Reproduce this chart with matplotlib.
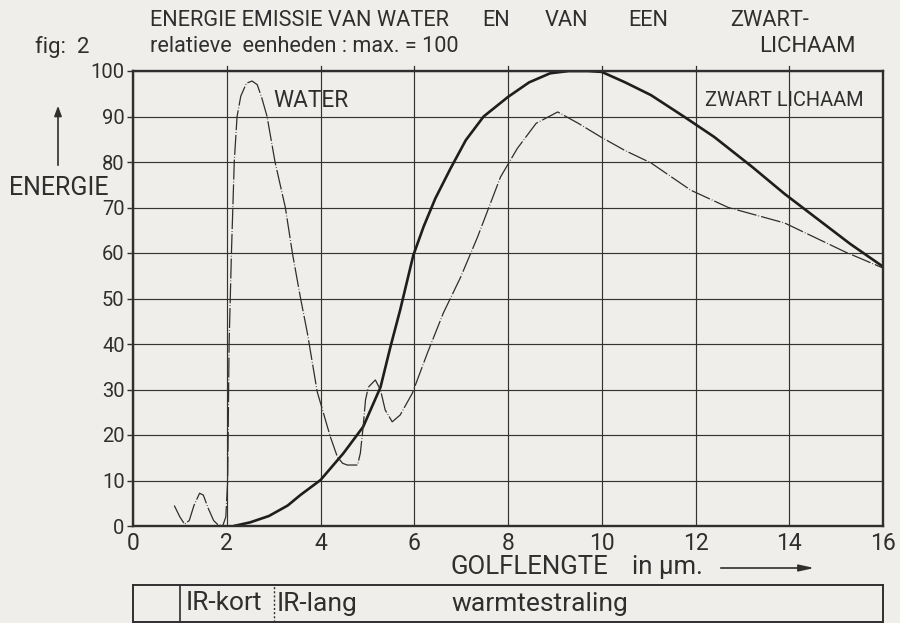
import matplotlib
matplotlib.use("Agg")
import matplotlib.pyplot as plt

# ---------------- data ----------------
x_ticks = [0, 2, 4, 6, 8, 10, 12, 14, 16]
y_ticks = [0, 10, 20, 30, 40, 50, 60, 70, 80, 90, 100]

# black body ("zwart lichaam") emission, relative units
bb_x = [2.15, 2.5, 2.9, 3.3, 3.57, 4.0, 4.49, 4.91, 5.28, 5.49, 5.7, 5.98, 6.2, 6.45,
        6.77, 7.1, 7.48, 8.0, 8.45, 8.9, 9.3, 9.7, 10.0, 10.5, 11.05, 11.75, 12.4,
        13.2, 13.9, 14.6, 15.3, 16.0]
bb_y = [0.0, 0.8, 2.2, 4.5, 6.8, 10.1, 16.0, 21.8, 30.5, 39.3, 47.5, 59.5, 65.8, 72.0,
        78.5, 84.8, 90.0, 94.3, 97.5, 99.5, 100.0, 100.0, 99.8, 97.5, 94.7, 90.0, 85.5,
        79.0, 73.0, 67.5, 62.0, 57.0]

# water emission, relative units
w_x = [0.88, 1.0, 1.1, 1.2, 1.3, 1.42, 1.5, 1.6, 1.72, 1.82, 1.92, 1.98, 2.02, 2.05,
       2.1, 2.16, 2.22, 2.3, 2.42, 2.54, 2.65, 2.75, 2.86, 3.03, 3.25, 3.4, 3.57,
       3.72, 3.93, 4.21, 4.36, 4.47, 4.57, 4.79, 4.85, 4.91, 4.96, 5.02, 5.17, 5.28,
       5.38, 5.53, 5.7, 5.96, 6.28, 6.62, 6.99, 7.35, 7.84, 8.2, 8.6, 9.06, 9.5,
       9.98, 10.5, 11.05, 11.9, 12.7, 13.9, 15.2, 16.0]
w_y = [4.5, 2.0, 0.4, 1.2, 4.5, 7.2, 6.8, 4.0, 1.2, 0.2, 0.2, 2.0, 10.0, 40.0,
       60.0, 80.0, 90.0, 94.5, 97.3, 97.8, 97.0, 94.0, 90.0, 80.0, 70.0, 60.0, 50.3,
       42.4, 29.5, 19.6, 15.2, 13.8, 13.4, 13.4, 16.0, 21.8, 27.7, 30.5, 32.1, 29.9,
       25.5, 22.9, 24.4, 29.2, 38.0, 46.8, 54.7, 63.5, 76.7, 83.0, 88.5, 91.0, 88.5,
       85.5, 82.5, 79.8, 73.8, 70.0, 66.6, 60.2, 56.7]

band_edges = [0, 1, 3, 16]
band_labels = ["", "IR-kort", "IR-lang", "warmtestraling"]

# ---------------- style ----------------
BG = "#efeeea"
INK = "#2f2f2f"
plt.rcParams["font.family"] = ["Roboto", "DejaVu Sans"]

W, H = 900, 623
fig = plt.figure(figsize=(W / 100, H / 100), dpi=100, facecolor=BG)

def fx(px):
    return px / W

def fy(py):
    return 1 - py / H

def ftext(px, py, s, size, ha="left"):
    fig.text(fx(px), fy(py), s, fontsize=size, color=INK, ha=ha, va="center")

ax = fig.add_axes([fx(133), fy(526), fx(883) - fx(133), fy(71) - fy(526)])
ax.set_facecolor(BG)
ax.set_xlim(0, 16)
ax.set_ylim(0, 100)
ax.set_xticks(x_ticks)
ax.set_yticks(y_ticks)
ax.set_xticklabels([str(v) for v in x_ticks], fontsize=16.5, color=INK)
ax.set_yticklabels([str(v) for v in y_ticks], fontsize=14.5, color=INK)
ax.grid(True, color="#333333", linewidth=0.85)
ax.set_axisbelow(True)
for s in ax.spines.values():
    s.set_linewidth(1.7)
    s.set_color(INK)
ax.tick_params(axis="y", direction="out", length=4, width=1, color=INK, pad=2)
ax.tick_params(axis="x", direction="out", length=0, pad=4)
# short marks above the top border at the grid positions
for xv in x_ticks[1:-1]:
    ax.plot([xv, xv], [100, 101.2], color=INK, linewidth=0.9, clip_on=False)

# curves
ax.plot(bb_x, bb_y, color="#1e1e1e", linewidth=1.9, solid_joinstyle="round",
        solid_capstyle="round")
ax.plot(w_x, w_y, color="#2e2e2e", linewidth=0.9,
        linestyle=(0, (16, 1.6, 0.6, 1.6)))

# in-plot labels
ax.text(3.0, 93.5, "WATER", fontsize=16.3, color=INK, ha="left", va="center")
ax.text(12.2, 93.5, "ZWART LICHAAM", fontsize=14.4, color=INK, ha="left", va="center")

# title texts
for px, t in [(150, "ENERGIE EMISSIE VAN WATER"), (482, "EN"), (545, "VAN"),
              (628, "EEN"), (730, "ZWART-")]:
    ftext(px, 20, t, 15.7)
ftext(35, 47, "fig:  2", 16)
ftext(150, 47, "relatieve  eenheden : max. = 100", 15.6)
ftext(856, 47, "LICHAAM", 15.9, ha="right")

# y-axis label with arrow
ftext(59, 188, "ENERGIE", 18, ha="center")
fig.add_artist(matplotlib.patches.FancyArrowPatch(
    (fx(58), fy(168)), (fx(58), fy(103)), transform=fig.transFigure,
    arrowstyle="-|>,head_length=6,head_width=2.2", color=INK, linewidth=1.2))

# x-axis label
ftext(450, 567, "GOLFLENGTE", 18.5)
ftext(632, 567, "in \u00b5m.", 18.5)
fig.add_artist(matplotlib.patches.FancyArrowPatch(
    (fx(718), fy(568)), (fx(817), fy(568)), transform=fig.transFigure,
    arrowstyle="-|>,head_length=9,head_width=2", color=INK, linewidth=1.2))

# band box under the plot
bax = fig.add_axes([fx(133), fy(622), fx(883) - fx(133), fy(585) - fy(622)])
bax.set_xlim(0, 16)
bax.set_ylim(0, 1)
bax.set_facecolor(BG)
bax.set_xticks([])
bax.set_yticks([])
for s in bax.spines.values():
    s.set_linewidth(1.4)
    s.set_color(INK)
bax.axvline(band_edges[1], color=INK, linewidth=1.2)
bax.axvline(band_edges[2], color=INK, linewidth=1.0, linestyle=(0, (1.5, 1.5)))
bax.text(band_edges[1] + 0.13, 0.5, band_labels[1], fontsize=19, color=INK,
         ha="left", va="center")
bax.text(band_edges[2] + 0.06, 0.5, band_labels[2], fontsize=19, color=INK,
         ha="left", va="center")
bax.text(6.8, 0.5, band_labels[3], fontsize=19, color=INK, ha="left", va="center")

fig.savefig("out.png", dpi=100, facecolor=BG)
